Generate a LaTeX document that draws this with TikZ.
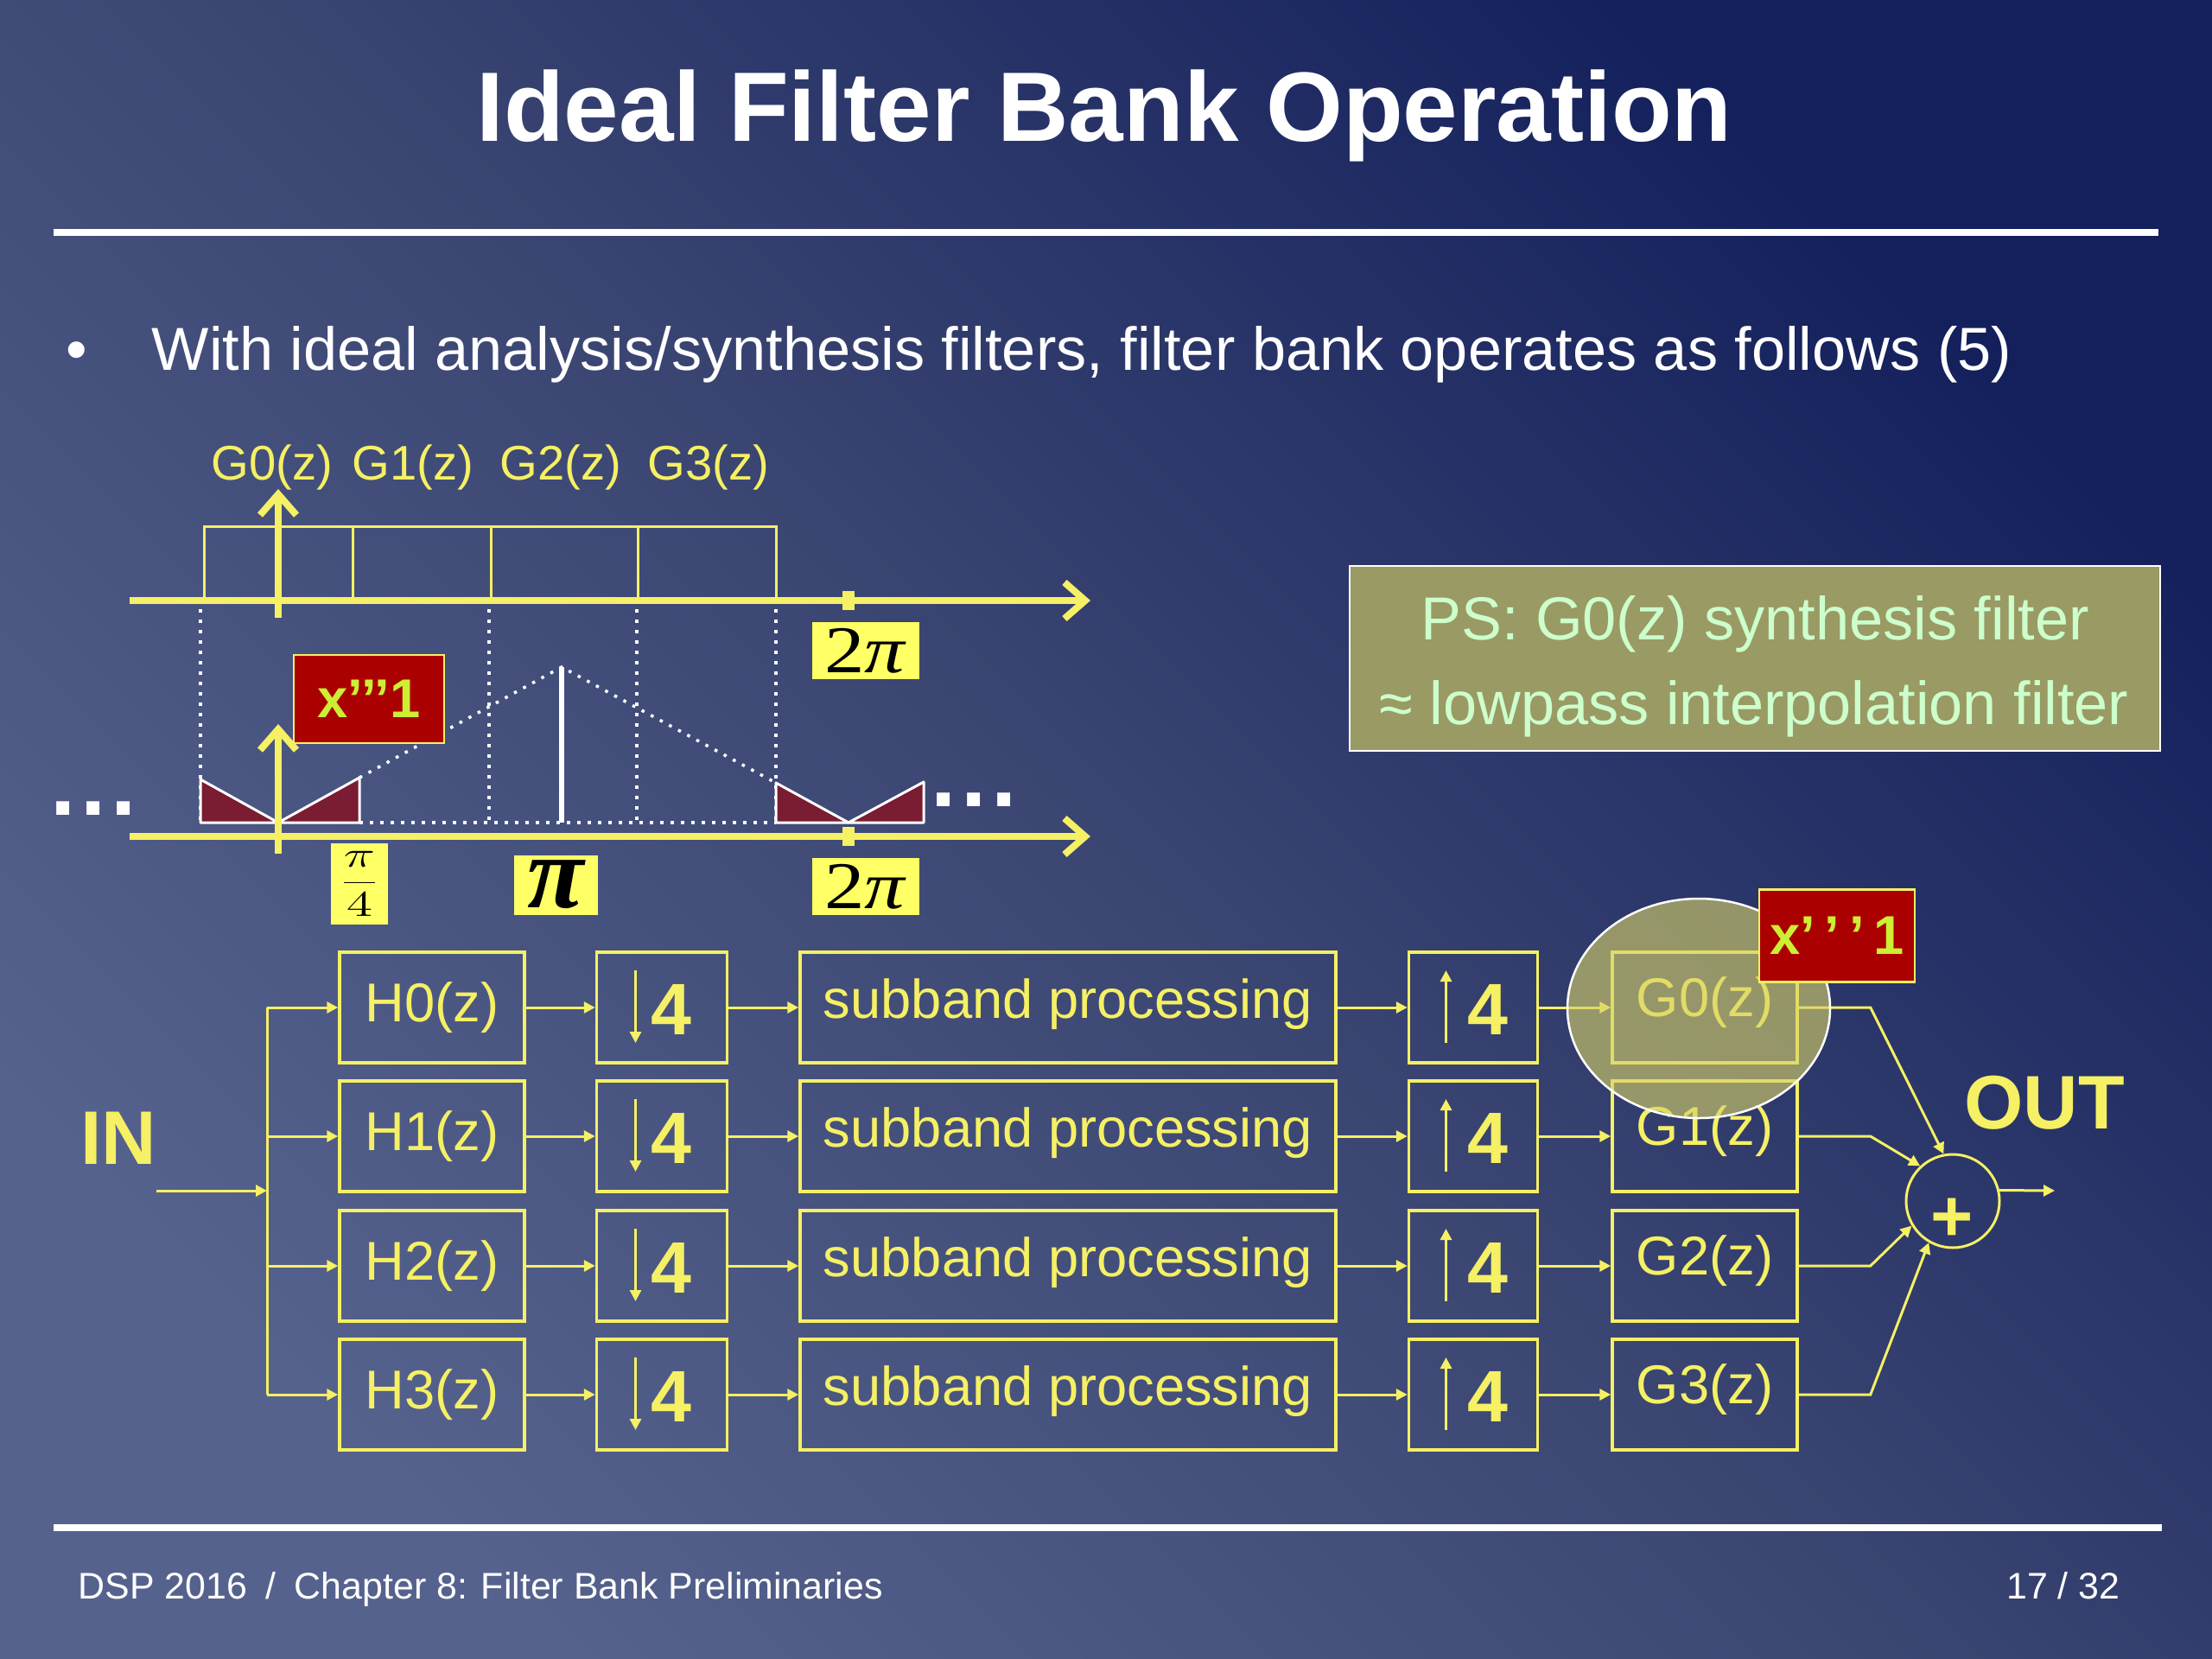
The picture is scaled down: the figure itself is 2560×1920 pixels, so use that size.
\documentclass[tikz,border=0pt]{standalone}
\usepackage{fontspec}
\setmainfont{Liberation Sans}
\newfontfamily\tms{Liberation Serif}
\usetikzlibrary{arrows.meta}
\newcommand\fsz[1]{\fontsize{#1}{#1}\selectfont}
\definecolor{yel}{HTML}{F5F064}
\definecolor{lblyel}{HTML}{FFFF66}
\definecolor{bgdark}{HTML}{14205C}
\definecolor{bgmid}{HTML}{3A4572}
\definecolor{bglight}{HTML}{56628E}
\definecolor{lblred}{HTML}{AA0000}
\definecolor{lbltxt}{HTML}{CCEE33}
\definecolor{trired}{HTML}{7A1C32}
\definecolor{psfill}{HTML}{9A9A64}
\definecolor{pstxt}{HTML}{CCFFCC}
\definecolor{olivecirc}{HTML}{D6D068}
\begin{document}
\begin{tikzpicture}[x=0.1mm, y=-0.1mm,
  conn/.style={draw=yel, line width=0.3mm},
  arr/.style={conn, -{Triangle[length=1.3mm,width=1.3mm]}},
  blk/.style={draw=yel, line width=0.35mm, minimum height=12.8mm, inner sep=0pt},
  boxtxt/.style={text=yel, font=\fsz{18pt}, inner sep=0pt},
  fourtxt/.style={text=yel, font=\fsz{24pt}\bfseries, inner sep=0pt},
  axisarr/.style={draw=yel, line width=0.8mm, -{Straight Barb[length=2.4mm,width=4.2mm]}},
  thinyel/.style={draw=yel, line width=0.3mm},
  lblbox/.style={fill=lblyel, text=black, inner sep=0pt},
  redlbl/.style={fill=lblred, draw=yel, line width=0.25mm, text=lbltxt, font=\fsz{18pt}\bfseries, inner sep=0pt},
  dotl/.style={draw=white, line width=0.35mm, dash pattern=on 0.35mm off 0.85mm},
  tri/.style={fill=trired, draw=white, line width=0.3mm, line join=round},
]
\useasboundingbox (0,0) rectangle (2560,1920);
\shade[top color=bgdark, bottom color=bglight, middle color=bgmid, shading angle=-45] (0,0) rectangle (2560,1920);

% title and rules
\node[anchor=base, text=white, font=\fsz{32.5pt}\bfseries] (title) at (1278,163) {Ideal Filter Bank Operation};
\draw[white, line width=0.8mm] (62,269) -- (2498,269);
\node[anchor=base, text=white, font=\fsz{20pt}] (bul) at (89,428) {•};
\node[anchor=base west, text=white, font=\fsz{20pt}, inner sep=0pt] (bullettext) at (175,428) {With ideal analysis/synthesis filters, filter bank operates as follows (5)};
\draw[white, line width=0.8mm] (62,1768) -- (2502,1768);
\node[anchor=base west, text=white, font=\fsz{12.2pt}, inner sep=0pt] (foot) at (90,1850) {DSP 2016\enspace/\enspace Chapter 8: Filter Bank Preliminaries};
\node[anchor=base east, text=white, font=\fsz{12.2pt}, inner sep=0pt] (page) at (2454,1850) {17 / 32};

% spectrum plot
\foreach \n/\x in {0/315,1/478,2/649,3/820}
  \node[anchor=base, text=yel, font=\fsz{16pt}, inner sep=0pt] (Glab\n) at (\x,555) {G\n(z)};
\draw[thinyel] (236,695) -- (236,609) -- (898,609) -- (898,695);
\foreach \x in {408,568,738} \draw[thinyel] (\x,609) -- (\x,695);
\foreach \x in {232,566,737,898} \draw[dotl] (\x,705) -- (\x,952);
\draw[tri] (232,902) -- (322,952) -- (232,952) -- cycle;
\draw[tri] (322,952) -- (416,900) -- (416,952) -- cycle;
\draw[tri] (898,906) -- (982,952) -- (898,952) -- cycle;
\draw[tri] (982,952) -- (1069,905) -- (1069,952) -- cycle;
\draw[dotl] (416,900) -- (650,772) -- (898,906);
\draw[dotl] (416,952) -- (898,952);
\draw[white, line width=0.6mm] (650,772) -- (650,952);
\draw[axisarr] (150,695) -- (1262,695);
\draw[axisarr] (150,968) -- (1262,968);
\draw[axisarr] (322,715) -- (322,566);
\draw[axisarr] (322,988) -- (322,838);
\fill[yel] (975,684) rectangle (989,706);
\fill[yel] (975,957) rectangle (989,979);
\node[lblbox, minimum width=12.4mm, minimum height=6.6mm] (tpiU) at (1002,753) {\tms\fsz{22pt}\scalebox{1.2}[1]{2\textit{π}}};
\node[lblbox, minimum width=12.4mm, minimum height=6.6mm] (tpiL) at (1002,1026) {\tms\fsz{22pt}\scalebox{1.2}[1]{2\textit{π}}};
\node[lblbox, minimum width=9.7mm, minimum height=6.9mm] (piL) at (643,1024) {\tms\fsz{34pt}\bfseries\itshape π};
\node[lblbox, minimum width=6.6mm, minimum height=9.4mm] (pi4) at (416,1023) {\fsz{12.5pt}\scalebox{1.45}[1]{$\displaystyle\frac{\pi}{4}$}};
\node[redlbl, minimum width=17.4mm, minimum height=10.2mm] (xlab1) at (427,809) {x’’’1};
\node[text=white, font=\fsz{30pt}\bfseries, inner sep=0pt] (dotsL) at (108,936) {.\kern0.6mm.\kern0.6mm.};
\node[text=white, font=\fsz{30pt}\bfseries, inner sep=0pt] (dotsR) at (1127,926) {.\kern0.6mm.\kern0.6mm.};

% PS box
\node[fill=psfill, draw=white, line width=0.25mm, minimum width=93.8mm, minimum height=21.4mm, inner sep=0pt] (ps) at (2031,762) {};
\node[anchor=base, text=pstxt, font=\fsz{20pt}, inner sep=0pt] (ps1) at (2031,740) {PS: G0(z) synthesis filter};
\node[anchor=base, text=pstxt, font=\fsz{20pt}, inner sep=0pt] (ps2) at (2030,838) {≈ lowpass interpolation filter};

% block diagram
\node[anchor=base, text=yel, font=\fsz{25pt}\bfseries, inner sep=0pt] (inlab) at (137,1347) {IN};
\node[anchor=base, text=yel, font=\fsz{25pt}\bfseries, inner sep=0pt] (outlab) at (2366,1306) {OUT};
\foreach \i/\y in {0/1166,1/1315,2/1465,3/1614} {
  \node[blk, minimum width=21.4mm] (H\i) at (500,\y) {};
  \node[boxtxt] (Ht\i) at (H\i.center) {H\i(z)};
  \node[blk, minimum width=15.1mm] (D\i) at (766,\y) {};
  \node[fourtxt] (Dt\i) at ([xshift=1.1mm,yshift=-0.2mm]D\i.center) {4};
  \draw[arr] ([xshift=-3.05mm,yshift=4.3mm]D\i.center) -- ([xshift=-3.05mm,yshift=-4.1mm]D\i.center);
  \node[blk, minimum width=62mm] (S\i) at (1236,\y) {};
  \node[boxtxt] (St\i) at ([yshift=0.4mm]S\i.center) {subband processing};
  \node[blk, minimum width=14.9mm] (U\i) at (1705,\y) {};
  \node[fourtxt] (Ut\i) at ([xshift=1.7mm,yshift=-0.2mm]U\i.center) {4};
  \draw[arr] ([xshift=-3.15mm,yshift=-4.1mm]U\i.center) -- ([xshift=-3.15mm,yshift=4.3mm]U\i.center);
  \node[blk, minimum width=21.4mm] (G\i) at (1973,\y) {};
  \node[boxtxt] (Gt\i) at ([yshift=0.6mm]G\i.center) {G\i(z)};
}
\coordinate (inS) at (181,1378);
\coordinate (split) at (309,1378);
\draw[arr] (inS) -- (split);
\draw[conn] (split |- H0.west) -- (split |- H3.west);
\foreach \i in {0,1,2,3} {
  \draw[arr] (split |- H\i.west) -- (H\i.west);
  \draw[arr] (H\i.east) -- (D\i.west);
  \draw[arr] (D\i.east) -- (S\i.west);
  \draw[arr] (S\i.east) -- (U\i.west);
  \draw[arr] (U\i.east) -- (G\i.west);
}
\node[circle, draw=yel, line width=0.3mm, minimum size=10.8mm, inner sep=0pt] (sum) at (2260,1390) {};
\node[text=yel, font=\fsz{24pt}\bfseries, inner sep=0pt] (plus) at (2259,1412) {+};
\coordinate (outE) at (2378,1378);
\draw[arr] (sum.13) -- (outE);
\draw[arr] (G0.east) -- ++(83,0) -- (sum.101);
\draw[arr] (G1.east) -- ++(83,0) -- (sum.133);
\draw[arr] (G2.east) -- ++(83,0) -- (sum.211);
\draw[arr] (G3.east) -- ++(83,0) -- (sum.240);
% highlight
\draw[white, line width=0.25mm, fill=olivecirc, fill opacity=0.62] (1966,1167) ellipse [x radius=15.2mm, y radius=12.7mm];
\node[redlbl, minimum width=18mm, minimum height=10.7mm] (xlab2) at (2126,1083) {x’\,’\,’\,1};
\end{tikzpicture}
\end{document}
